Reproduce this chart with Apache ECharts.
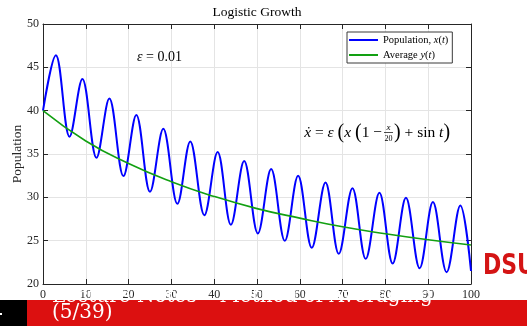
<!DOCTYPE html>
<html>
<head>
<meta charset="utf-8">
<script src="https://cdn.jsdelivr.net/npm/echarts@6/dist/echarts.min.js"></script>
<style>
  html, body { margin: 0; padding: 0; background: #fff; }
  #chart { width: 527px; height: 326px; }
</style>
</head>
<body>
<div id="chart"></div>
<script>
// ---- data ----
var titleText = 'Logistic Growth';
var xTicks = [0, 10, 20, 30, 40, 50, 60, 70, 80, 90, 100];
var yTicks = [20, 25, 30, 35, 40, 45, 50];

// Population x(t): start, alternating peaks / troughs, end
var popT = [0, 3.0, 6.2, 9.2, 12.5, 15.5, 18.8, 21.8, 25.0, 28.1, 31.4, 34.4, 37.7, 40.8, 43.9, 47.0,
            50.2, 53.3, 56.5, 59.6, 62.8, 66.0, 69.1, 72.3, 75.4, 78.6, 81.7, 84.8, 88.0, 91.1, 94.3, 97.5, 100];
var popV = [40, 46.4, 37.0, 43.65, 34.57, 41.4, 32.45, 39.5, 30.64, 37.9, 29.25, 36.45, 27.94, 35.22, 26.83, 34.18,
            25.83, 33.26, 24.98, 32.48, 24.17, 31.72, 23.48, 31.06, 22.9, 30.52, 22.37, 29.94, 21.82, 29.45, 21.36, 29.06, 21.5];

// Average y(t)
var avgT = [0, 10, 20, 30, 40, 50, 60, 70, 80, 90, 100];
var avgV = [40, 36.5, 33.9, 31.8, 30.1, 28.7, 27.6, 26.6, 25.8, 25.1, 24.5];

var seriesNames = ['Population, x(t)', 'Average y(t)'];

// ---- build ----
function pairs(t, v) { return t.map(function (x, i) { return [x, v[i]]; }); }

var serif = '"Liberation Serif", "DejaVu Serif", serif';
var axisColor = '#262626';
var gridColor = '#e4e4e4';

var chart = echarts.init(document.getElementById('chart'), null, { renderer: 'canvas' });

var xBase = {
  type: 'value', min: xTicks[0], max: xTicks[xTicks.length - 1], interval: 10,
  axisLine: { show: true, onZero: false, lineStyle: { color: axisColor, width: 1 } },
  axisTick: { show: true, inside: true, length: 5, lineStyle: { color: axisColor } }
};
var yBase = {
  type: 'value', min: yTicks[0], max: yTicks[yTicks.length - 1], interval: 5,
  axisLine: { show: true, onZero: false, lineStyle: { color: axisColor, width: 1 } },
  axisTick: { show: true, inside: true, length: 5, lineStyle: { color: axisColor } }
};

var option = {
  animation: false,
  backgroundColor: '#ffffff',
  title: {
    text: titleText, left: 257, top: 5, padding: 0, textAlign: 'center',
    textStyle: { fontFamily: serif, fontSize: 13.5, fontWeight: 'normal', color: '#000' }
  },
  grid: { left: 43, right: 56, top: 24, bottom: 42, containLabel: false, outerBoundsMode: 'none' },
  legend: {
    orient: 'vertical', left: 347, top: 32,
    padding: [2, 4, 2, 2], itemGap: 3,
    itemWidth: 29, itemHeight: 2, icon: 'rect',
    backgroundColor: '#fff', borderColor: '#3a3a3a', borderWidth: 1, borderRadius: 0,
    data: seriesNames,
    formatter: function (name) {
      return name === seriesNames[0] ? 'Population, {i|x}({i|t})' : 'Average {i|y}({i|t})';
    },
    textStyle: {
      fontFamily: serif, fontSize: 10.5, color: '#000', lineHeight: 12,
      rich: { i: { fontFamily: serif, fontSize: 10.5, fontStyle: 'italic', color: '#000' } }
    }
  },
  xAxis: [
    Object.assign({}, xBase, {
      position: 'bottom',
      axisLabel: { show: true, margin: 5, fontFamily: serif, fontSize: 12, color: axisColor },
      splitLine: { show: true, lineStyle: { color: gridColor, width: 1 } }
    }),
    Object.assign({}, xBase, {
      position: 'top', axisLabel: { show: false }, splitLine: { show: false }
    })
  ],
  yAxis: [
    Object.assign({}, yBase, {
      position: 'left',
      name: 'Population', nameLocation: 'middle', nameRotate: 90, nameGap: 19,
      nameMoveOverlap: false,
      nameTextStyle: { fontFamily: serif, fontSize: 13.5, color: axisColor },
      axisLabel: { show: true, margin: 4, fontFamily: serif, fontSize: 12, color: axisColor },
      splitLine: { show: true, lineStyle: { color: gridColor, width: 1 } }
    }),
    Object.assign({}, yBase, {
      position: 'right', axisLabel: { show: false }, splitLine: { show: false }
    })
  ],
  series: [
    {
      name: seriesNames[0], type: 'line', xAxisIndex: 0, yAxisIndex: 0,
      data: pairs(popT, popV), smooth: 0.36, showSymbol: false, symbol: 'none',
      lineStyle: { color: '#0000ff', width: 2 }, itemStyle: { color: '#0000ff' }, z: 3
    },
    {
      name: seriesNames[1], type: 'line', xAxisIndex: 0, yAxisIndex: 0,
      data: pairs(avgT, avgV), smooth: 0.5, showSymbol: false, symbol: 'none',
      lineStyle: { color: '#12a012', width: 1.6 }, itemStyle: { color: '#12a012' }, z: 4
    }
  ],
  graphic: [
    // epsilon annotation
    {
      type: 'text', z: 50, left: 137, top: 50,
      style: {
        text: '{i|ε} = 0.01', fill: '#000',
        font: '14px ' + serif,
        rich: { i: { fontFamily: serif, fontSize: 14, fontStyle: 'italic' } }
      }
    },
    // equation, left part
    {
      type: 'text', z: 50, x: 382, y: 133,
      style: {
        text: '{i|ẋ} = {i|ε} {p|(}{i|x} {p|(}1 −', fill: '#000', align: 'right', verticalAlign: 'middle',
        font: '15.5px ' + serif,
        rich: {
          i: { fontFamily: serif, fontSize: 15.5, fontStyle: 'italic' },
          p: { fontFamily: serif, fontSize: 20 }
        }
      }
    },
    // fraction x / 20
    {
      type: 'text', z: 50, x: 388.5, y: 127.5,
      style: { text: 'x', fill: '#000', align: 'center', verticalAlign: 'middle', font: 'italic 9px ' + serif }
    },
    {
      type: 'line', z: 50,
      shape: { x1: 384, y1: 132.5, x2: 393, y2: 132.5 },
      style: { stroke: '#000', lineWidth: 0.7 }
    },
    {
      type: 'text', z: 50, x: 388.5, y: 138.5,
      style: { text: '20', fill: '#000', align: 'center', verticalAlign: 'middle', font: '8px ' + serif }
    },
    // equation, right part
    {
      type: 'text', z: 50, x: 394, y: 133,
      style: {
        text: '{p|)} + sin {i|t}{p|)}', fill: '#000', align: 'left', verticalAlign: 'middle',
        font: '15.5px ' + serif,
        rich: {
          i: { fontFamily: serif, fontSize: 15.5, fontStyle: 'italic' },
          p: { fontFamily: serif, fontSize: 20 }
        }
      }
    },
    // logo fragment
    {
      type: 'text', z: 60, x: 483, y: 267, scaleY: 1.25,
      style: {
        text: 'DSU', fill: '#d41414', align: 'left', verticalAlign: 'middle',
        x: 0, y: 0,
        font: 'bold 22px "DejaVu Sans", sans-serif'
      }
    },
    // footer bar
    {
      type: 'rect', z: 90, shape: { x: 0, y: 300, width: 27, height: 26 },
      style: { fill: '#000' }
    },
    {
      type: 'rect', z: 90, shape: { x: 27, y: 300, width: 500, height: 26 },
      style: { fill: '#dc1010' }
    },
    {
      type: 'rect', z: 91, shape: { x: 0, y: 313, width: 2, height: 2 },
      style: { fill: '#fff' }
    },
    {
      type: 'text', z: 95, x: 52, y: 296.5,
      style: {
        text: 'Lecture Notes – Method of Averaging', fill: '#fff', align: 'left', verticalAlign: 'middle',
        font: '20px "DejaVu Serif", serif'
      }
    },
    {
      type: 'text', z: 95, x: 52, y: 312.5,
      style: {
        text: '(5/39)', fill: '#fff', align: 'left', verticalAlign: 'middle',
        font: '20px "DejaVu Serif", serif'
      }
    }
  ]
};

chart.setOption(option);
</script>
</body>
</html>
